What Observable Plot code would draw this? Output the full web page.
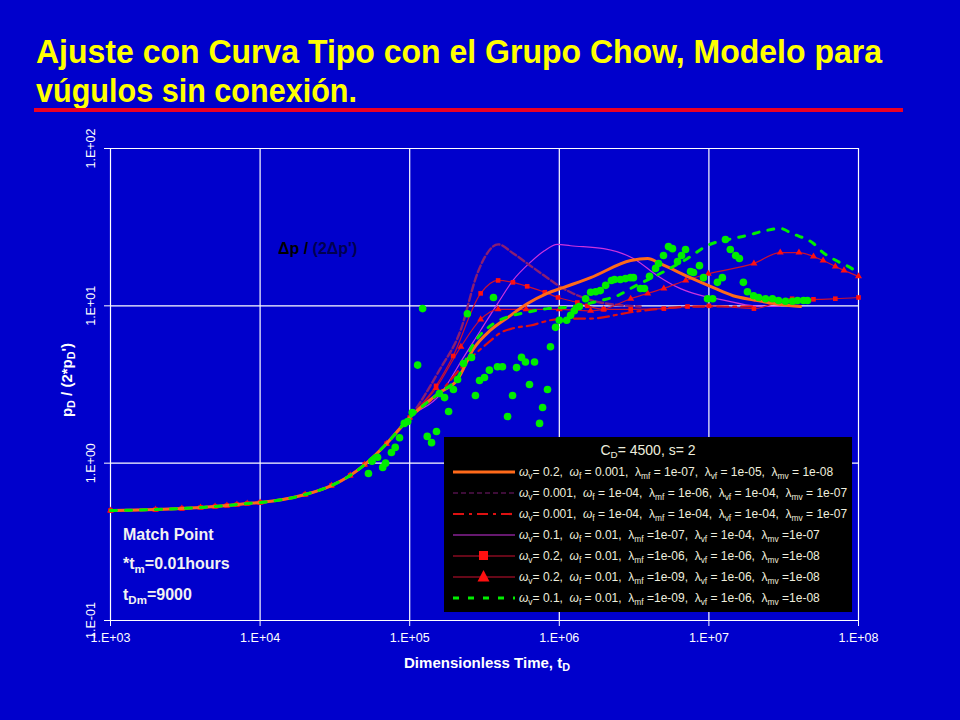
<!DOCTYPE html>
<html>
<head>
<meta charset="utf-8">
<script src="https://cdn.jsdelivr.net/npm/d3@7"></script>
<script src="https://cdn.jsdelivr.net/npm/@observablehq/plot@0.6"></script>
<style>
html, body { margin: 0; padding: 0; background: #0000cc; }
#wrap { position: relative; width: 960px; height: 720px; overflow: hidden; font-family: Arial, "Liberation Sans", sans-serif; }
#wrap svg.plot { position: absolute; left: 0; top: 0; }
#title { position: absolute; left: 36px; top: 32px; color: #ffff00; font-weight: bold; font-size: 33px; line-height: 39px;
  font-family: "Liberation Sans Narrow", "Arial Narrow", "Liberation Sans", Arial, sans-serif; white-space: nowrap; z-index: 3; }
#title span { display: inline-block; transform-origin: 0 50%; }
#rule { position: absolute; left: 34px; top: 108px; width: 869px; height: 4px; background: #ee0022; z-index: 3; }
.ov { position: absolute; z-index: 3; white-space: nowrap; }
.sub { font-size: 72%; position: relative; top: 0.32em; }
#ylab { left: 66px; top: 380px; transform: translate(-50%, -50%) rotate(-90deg); color: #ffffff; font-weight: bold; font-size: 15px; }
#xlab { left: 487px; top: 662px; transform: translate(-50%, -50%); color: #ffffff; font-weight: bold; font-size: 15px; }
#annot { left: 278px; top: 240px; color: #000000; font-weight: bold; font-size: 16px; }
#annot .dim { color: #000050; }
#match { left: 123px; top: 520px; color: #f2f2f2; font-weight: bold; font-size: 16px; line-height: 29px; }
#legend { left: 444px; top: 437px; width: 408px; height: 175px; background: #000000; color: #eeeedd; font-size: 12px; }
#legend .lt { position: absolute; left: 0; width: 100%; top: 5px; text-align: center; font-size: 14px; line-height: 16px; }
#legend .row { position: absolute; left: 8px; height: 16px; }
#legend .row svg { position: absolute; left: 0; top: 0; }
#legend .row .tx { position: absolute; left: 67px; top: 0px; line-height: 16px; }
#legend .sub { font-size: 70%; top: 0.35em; }
</style>
</head>
<body>
<div id="wrap">
  <div id="title"><span id="t1">Ajuste con Curva Tipo con el Grupo Chow, Modelo para</span><br><span id="t2">vúgulos sin conexión.</span></div>
  <div id="rule"></div>
  <div id="ylab" class="ov">p<span class="sub">D</span> / (2*p<span class="sub">D</span>')</div>
  <div id="xlab" class="ov">Dimensionless Time, t<span class="sub">D</span></div>
  <div id="annot" class="ov">Δp / <span class="dim">(2Δp')</span></div>
  <div id="match" class="ov">Match Point<br>*t<span class="sub">m</span>=0.01hours<br>t<span class="sub">Dm</span>=9000</div>
  <div id="legend" class="ov"><div class="lt">C<span class="sub">D</span>= 4500, s= 2</div></div>
</div>
<script>
// ---- axis ticks ----
const xTicks = [1e3, 1e4, 1e5, 1e6, 1e7, 1e8];
const xTickLabels = ["1.E+03", "1.E+04", "1.E+05", "1.E+06", "1.E+07", "1.E+08"];
const yTicks = [0.1, 1, 10, 100];
const yTickLabels = ["1.E-01", "1.E+00", "1.E+01", "1.E+02"];

// ---- shared early-time part of all type curves ----
const earlyT = [1e3, 2e3, 3e3, 4e3, 5e3, 6e3, 7e3, 8.2e3, 1e4, 2e4, 3e4, 4e4, 5e4, 7e4, 1e5];
const earlyY = [0.50, 0.507, 0.515, 0.523, 0.530, 0.538, 0.546, 0.554, 0.562, 0.632, 0.721, 0.836, 0.98, 1.33, 1.95];

// ---- type curves after divergence ----
const orangeT = [1.58e5, 2.09e5, 2.66e5, 3.47e5, 4.5e5, 6.1e5, 8.3e5, 1.07e6, 1.62e6, 3.0e6, 3.9e6, 4.7e6, 7.5e6, 1.06e7, 1.45e7, 2.0e7, 3.0e7, 4.1e7];
const orangeY = [2.8, 3.4, 5.3, 7.0, 8.4, 10.3, 12.0, 13.1, 15.1, 19.4, 20.0, 18.6, 15.1, 13.1, 11.6, 10.9, 10.2, 9.9];

const purpleT = [1.58e5, 2.19e5, 2.83e5, 3.17e5, 3.9e5, 4.9e5, 6.4e5, 8.3e5, 9.8e5, 1.19e6, 1.88e6, 3.5e6];
const purpleY = [3.9, 7.0, 16.0, 20.3, 24.6, 21.6, 18.0, 15.1, 13.5, 12.2, 10.5, 9.9];

const dashDotT = [1.58e5, 2.29e5, 3.47e5, 4.0e5, 4.9e5, 6.4e5, 8.7e5, 1.19e6, 1.62e6, 3.0e6, 5.8e6, 9.8e6, 2.0e7];
const dashDotY = [2.8, 4.2, 6.0, 6.7, 7.2, 7.5, 8.1, 8.3, 8.3, 9.1, 9.75, 9.9, 9.9];

const magentaT = [1.58e5, 2.29e5, 2.98e5, 3.86e5, 4.9e5, 6.4e5, 7.9e5, 9.7e5, 1.19e6, 1.98e6, 3.13e6, 4.5e6, 6.2e6, 7.9e6, 1.3e7, 2.0e7, 3.0e7];
const magentaY = [2.7, 4.7, 7.0, 10.3, 14.5, 18.9, 22.3, 24.6, 24.1, 23.1, 20.0, 15.6, 13.1, 12.0, 10.8, 10.0, 9.9];

const squareT = [1.5e5, 1.95e5, 2.98e5, 3.9e5, 4.9e5, 6.1e5, 8.0e5, 9.8e5, 1.32e6, 1.54e6, 1.98e6, 3.0e6, 5.0e6, 7.2e6, 1.0e7, 2.0e7, 3.6e7, 5.0e7, 7.0e7, 1e8];
const squareY = [3.1, 4.8, 12.0, 14.5, 14.1, 13.3, 12.2, 11.3, 10.5, 10.0, 9.5, 9.5, 9.6, 9.9, 10.0, 9.6, 11.1, 11.0, 11.1, 11.3];

const triangleT = [1.5e5, 2.2e5, 2.98e5, 3.9e5, 6.0e5, 1.0e6, 1.62e6, 1.98e6, 3.0e6, 3.9e6, 5.0e6, 7.0e6, 9.9e6, 2.0e7, 3.0e7, 4.0e7, 5.0e7, 5.8e7, 7.0e7, 8.0e7, 1e8];
const triangleY = [3.0, 5.5, 8.2, 9.5, 9.5, 9.5, 9.3, 9.5, 11.1, 12.0, 12.9, 14.5, 16.0, 18.6, 21.8, 21.8, 20.6, 19.4, 17.8, 16.8, 15.4];

const greenT = [1.58e5, 2.09e5, 2.66e5, 3.63e5, 4.9e5, 6.1e5, 8.3e5, 1.07e6, 1.32e6, 1.88e6, 2.45e6, 3.0e6, 5.0e6, 7.2e6, 9.8e6, 1.45e7, 1.8e7, 2.4e7, 3.0e7, 3.6e7, 5.0e7, 5.8e7, 7.1e7, 9.0e7, 1e8];
const greenY = [2.8, 3.5, 5.7, 7.7, 8.7, 9.1, 9.6, 9.75, 10.0, 10.8, 11.6, 12.9, 16.5, 20.0, 24.2, 26.8, 28.0, 30.1, 31.0, 28.8, 24.9, 21.8, 19.4, 17.3, 16.2];

// ---- field data Δp/(2Δp') ----
const fieldT = [5.3e4, 5.6e4, 6.1e4, 6.6e4, 6.9e4, 7.55e4, 8.0e4, 8.55e4, 9.2e4, 9.7e4, 1.04e5, 1.13e5, 1.22e5, 1.31e5, 1.40e5, 1.51e5, 1.58e5, 1.71e5, 1.82e5, 1.96e5,
  2.09e5, 2.29e5, 2.43e5, 2.59e5, 2.75e5, 2.93e5, 3.16e5, 3.41e5, 3.63e5, 3.86e5, 4.17e5, 4.51e5, 4.87e5, 5.18e5, 5.59e5, 5.94e5, 6.32e5, 6.83e5, 7.38e5, 7.73e5,
  8.34e5, 8.73e5, 9.44e5, 1.0e6, 1.12e6, 1.19e6, 1.26e6, 1.36e6, 1.50e6, 1.62e6, 1.75e6, 1.88e6, 2.04e6, 2.23e6, 2.34e6, 2.56e6, 2.77e6, 2.99e6, 3.13e6, 3.49e6,
  3.71e6, 4.01e6, 4.40e6, 4.61e6, 4.97e6, 5.37e6, 5.71e6, 6.17e6, 6.56e6, 6.98e6, 7.54e6, 7.89e6, 8.65e6, 9.20e6, 9.79e6, 1.06e7, 1.14e7, 1.23e7, 1.29e7, 1.39e7,
  1.51e7, 1.60e7, 1.70e7, 1.81e7, 1.99e7, 2.15e7, 2.39e7, 2.66e7, 2.92e7, 3.25e7, 3.62e7, 3.91e7, 4.29e7, 4.56e7];
const fieldY = [0.86, 1.03, 1.09, 0.94, 1.0, 1.17, 1.26, 1.45, 1.79, 1.84, 2.10, 4.2, 9.6, 1.48, 1.35, 1.59, 2.77, 2.61, 2.13, 2.94,
  3.4, 4.3, 8.9, 4.7, 2.69, 3.35, 3.5, 3.9, 11.3, 4.1, 4.1, 1.98, 2.69, 4.05, 4.7, 4.4, 3.16, 4.4, 1.79, 2.26,
  2.94, 5.5, 7.3, 8.1, 8.1, 8.7, 9.3, 9.9, 11.1, 12.2, 12.3, 12.5, 13.5, 14.5, 14.7, 14.7, 14.9, 15.1, 15.1, 12.9,
  12.9, 15.4, 17.3, 18.6, 20.9, 23.8, 23.1, 19.1, 20.9, 22.8, 16.5, 16.3, 18.0, 15.1, 11.1, 11.1, 14.1, 15.1, 26.4, 22.8,
  20.9, 20.0, 14.1, 12.3, 11.6, 11.3, 11.1, 11.1, 10.8, 10.7, 10.7, 10.8, 10.8, 10.8];

// ---- legend parameters ----
const legendWv  = ["0.2", "0.001", "0.001", "0.1", "0.2", "0.2", "0.1"];
const legendWf  = ["0.001", "1e-04", "1e-04", "0.01", "0.01", "0.01", "0.01"];
const legendLmf = ["1e-07", "1e-06", "1e-04", "1e-07", "1e-06", "1e-09", "1e-09"];
const legendLvf = ["1e-05", "1e-04", "1e-04", "1e-04", "1e-06", "1e-06", "1e-06"];
const legendLmv = ["1e-08", "1e-07", "1e-07", "1e-07", "1e-08", "1e-08", "1e-08"];

// ---- build tables ----
const pairs = (T, Y) => T.map((t, i) => ({t, y: Y[i]}));
const early = pairs(earlyT, earlyY);
const withEarly = (T, Y) => early.concat(pairs(T, Y));
const cOrange = withEarly(orangeT, orangeY);
const cPurple = withEarly(purpleT, purpleY);
const cDashDot = withEarly(dashDotT, dashDotY);
const cMagenta = withEarly(magentaT, magentaY);
const cSquare = withEarly(squareT, squareY);
const cTriangle = withEarly(triangleT, triangleY);
const cGreen = withEarly(greenT, greenY);
const field = pairs(fieldT, fieldY);

const styles = [
  {stroke: "#ff6a1a", strokeWidth: 3},
  {stroke: "#7a1a70", strokeWidth: 1.2, strokeDasharray: "5,3"},
  {stroke: "#dd1111", strokeWidth: 2.2, strokeDasharray: "11,5,3,5"},
  {stroke: "#cc33dd", strokeWidth: 1.2},
  {stroke: "#cc1030", strokeWidth: 1.2},
  {stroke: "#cc1030", strokeWidth: 1.2},
  {stroke: "#00ee00", strokeWidth: 3, strokeDasharray: "6,9"}
];

const lineOpts = (s) => ({x: "t", y: "y", curve: "monotone-x", ...s});

const plot = Plot.plot({
  width: 960, height: 720,
  marginLeft: 110, marginRight: 102, marginTop: 148, marginBottom: 100,
  style: {background: "transparent", color: "white", fontFamily: "Arial, 'Liberation Sans', sans-serif", fontSize: "12.5px"},
  x: {type: "log", domain: [1e3, 1e8]},
  y: {type: "log", domain: [0.1, 100]},
  marks: [
    Plot.gridX(xTicks, {stroke: "white", strokeOpacity: 1, strokeWidth: 1.2}),
    Plot.gridY(yTicks, {stroke: "white", strokeOpacity: 1, strokeWidth: 1.2}),
    Plot.axisX(xTicks, {tickSize: 6, tickPadding: 7, label: null, stroke: "white", fill: "white",
      tickFormat: d => xTickLabels[xTicks.indexOf(d)]}),
    Plot.axisY(yTicks, {tickSize: 6, label: null, stroke: "white", tickFormat: () => ""}),
    Plot.text(yTicks, {y: d => d, frameAnchor: "left", dx: -20, rotate: -90, textAnchor: "middle",
      text: d => yTickLabels[yTicks.indexOf(d)], fill: "white", fontSize: 12.5}),
    Plot.line(cMagenta, lineOpts(styles[3])),
    Plot.line(cDashDot, lineOpts(styles[2])),
    Plot.line(cPurple, {...lineOpts(styles[1]), strokeWidth: 2.4, strokeDasharray: "7,3", stroke: "#8a1e72"}),
    Plot.line(cSquare, lineOpts(styles[4])),
    Plot.line(cTriangle, lineOpts(styles[5])),
    Plot.dot(cSquare, {x: "t", y: "y", symbol: "square", r: 2.6, fill: "#ff1010"}),
    Plot.dot(cTriangle, {x: "t", y: "y", symbol: "triangle", r: 2.6, fill: "#ff1010"}),
    Plot.line(cOrange, lineOpts(styles[0])),
    Plot.line(cGreen, lineOpts(styles[6])),
    Plot.dot(field, {x: "t", y: "y", r: 3.8, fill: "#00ee00"})
  ]
});
plot.classList.add("plot");
document.getElementById("wrap").prepend(plot);

// ---- legend ----
const legend = document.getElementById("legend");
const ns = "http://www.w3.org/2000/svg";
const sub = s => `<span class="sub">${s}</span>`;
for (let i = 0; i < 7; i++) {
  const row = document.createElement("div");
  row.className = "row";
  row.style.top = (35 + i * 21 - 8) + "px";
  const s = styles[i];
  let svg = `<svg width="64" height="16" xmlns="${ns}"><line x1="1" x2="63" y1="8" y2="8" stroke="${s.stroke}" stroke-width="${s.strokeWidth}"${s.strokeDasharray ? ` stroke-dasharray="${s.strokeDasharray}"` : ""}/>`;
  if (i === 4) svg += `<rect x="27" y="3" width="9" height="9" fill="#ff1010"/>`;
  if (i === 5) svg += `<path d="M31.5,1 L37.5,12.5 L25.5,12.5 Z" fill="#ff1010"/>`;
  svg += `</svg>`;
  const eq = i < 3 ? " = " : " =";
  const txt = `<i>ω</i>${sub("v")}= ${legendWv[i]},&nbsp; <i>ω</i>${sub("f")} = ${legendWf[i]},&nbsp; λ${sub("mf")}${eq}${legendLmf[i]},&nbsp; λ${sub("vf")} = ${legendLvf[i]},&nbsp; λ${sub("mv")}${eq}${legendLmv[i]}`;
  row.innerHTML = svg + `<span class="tx">${txt}</span>`;
  legend.appendChild(row);
}

// ---- fit title widths ----
function fit(id, w) {
  const el = document.getElementById(id);
  const r = el.getBoundingClientRect().width;
  if (r > 0) el.style.transform = `scaleX(${w / r})`;
}
fit("t1", 846);
fit("t2", 321);
</script>
</body>
</html>
